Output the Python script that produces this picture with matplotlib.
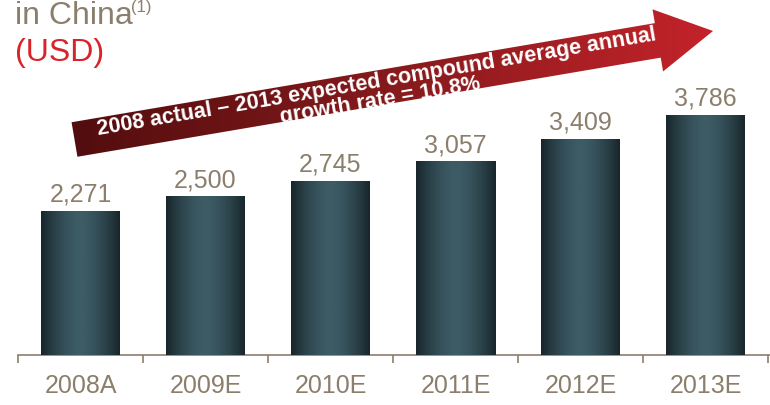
import numpy as np
import matplotlib.pyplot as plt
from matplotlib.patches import Polygon
from matplotlib.colors import LinearSegmentedColormap

years = ["2008A", "2009E", "2010E", "2011E", "2012E", "2013E"]
spend = [2271, 2500, 2745, 3057, 3409, 3786]
cagr_lines = ["2008 actual \u2013 2013 expected compound average annual",
              "growth rate = 10.8%"]

TXT = "#8C7E6C"
RED = "#D8232A"

plt.rcParams['font.family'] = ['Liberation Sans', 'DejaVu Sans']

W, H = 770, 406
fig = plt.figure(figsize=(W / 100, H / 100), dpi=100)

# bar chart area: baseline at y=356px, one category = 125px
ax = fig.add_axes([18 / W, (H - 356) / H, 750 / W, 356 / H])
x = np.arange(len(years))
bars = ax.bar(x, spend, width=0.632, color="#2E464F", zorder=2)
ax.set_xlim(-0.5, len(years) - 0.5)
ax.set_ylim(0, 5624)

# horizontal shading on each bar
t = np.linspace(0, 1, 200)
prof = 1 - np.abs(2 * t - 1) ** 1.6
bar_cmap = LinearSegmentedColormap.from_list("bar", ["#18262B", "#3D5C66"])
for b in bars:
    bx, by = b.get_x(), b.get_y()
    ax.imshow(prof[None, :], cmap=bar_cmap, aspect="auto", vmin=0, vmax=1,
              extent=[bx, bx + b.get_width(), by, by + b.get_height()],
              zorder=3, clip_path=b, clip_on=True)
    b.set_alpha(0)

for xi, v in zip(x, spend):
    ax.annotate(f"{v:,}", (xi, v), xytext=(0, 7.5), textcoords="offset points",
                ha="center", va="baseline", fontsize=18, color=TXT)

for s in ["top", "right", "left"]:
    ax.spines[s].set_visible(False)
ax.spines["bottom"].set_color(TXT)
ax.spines["bottom"].set_linewidth(1.2)
ax.spines["bottom"].set_bounds(-0.5, 5.55)
ax.set_yticks([])
ax.set_xticks(x)
ax.set_xticklabels(years, fontsize=18, color=TXT)
ax.tick_params(axis="x", which="major", length=0, pad=13)
ax.set_xticks(np.arange(-0.5, len(years)), minor=True)
ax.tick_params(axis="x", which="minor", length=6, width=1.2, color=TXT, direction="out")
ax.set_facecolor("none")

# overlay in pixel coordinates for the title and the growth arrow
ov = fig.add_axes([0, 0, 1, 1], zorder=5)
ov.set_xlim(0, W)
ov.set_ylim(H, 0)
ov.axis("off")
ov.patch.set_alpha(0)

ov.text(15, 24, "in China", fontsize=23, color=TXT, va="baseline", ha="left")
ov.text(131, 12, "(1)", fontsize=12, color=TXT, va="baseline", ha="left")
ov.text(15, 53, "(USD)", fontsize=23, color=RED, va="center", ha="left")

tail = np.array([74.5, 140.5])
tip = np.array([713.0, 32.0])
d = tip - tail
length = np.hypot(*d)
u = d / length
n = np.array([-u[1], u[0]])  # perpendicular (points down-ish in pixel space)
sw, hw, hl = 17.5, 31.5, 56
base = tail + u * (length - hl)
pts = [tail - n * sw, base - n * sw, base - n * hw, tip,
       base + n * hw, base + n * sw, tail + n * sw]
arrow = Polygon(pts, closed=True, facecolor="none", edgecolor="none")
ov.add_patch(arrow)
arrow_cmap = LinearSegmentedColormap.from_list("arr", ["#520D0E", "#861A1C", "#C4232A"])
grad = np.linspace(0, 1, 300)[None, :]
im = ov.imshow(grad, cmap=arrow_cmap, aspect="auto", extent=[70, 716, 160, 8], zorder=1)
im.set_clip_path(arrow)

# two lines of white text along the arrow, second one a line-height below
ang = np.degrees(np.arctan2(-d[1], d[0]))
anchor = np.array([378.0, 87.5])
for i, line in enumerate(cagr_lines):
    px, py = anchor + n * 18.5 * i
    ov.text(px, py, line, fontsize=15.5, fontweight="bold", color="white",
            ha="center", va="baseline", rotation=ang, rotation_mode="anchor",
            zorder=2)

fig.savefig("out.png", dpi=100)
